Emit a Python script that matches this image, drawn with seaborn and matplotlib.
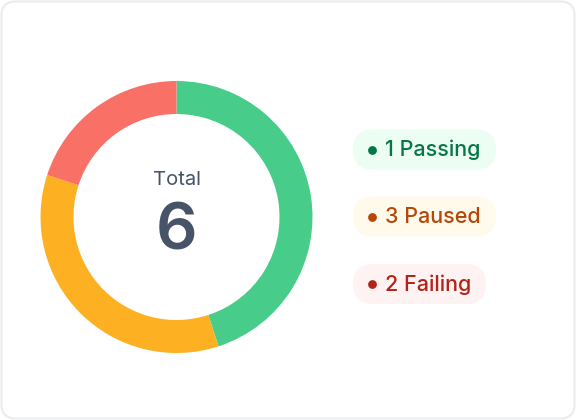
import matplotlib.pyplot as plt
import seaborn as sns
from matplotlib.patches import FancyBboxPatch

# 資料
labels = ['Passing', 'Paused', 'Failing']
counts = [1, 3, 2]
arc_share = [45, 35, 20]
ring_colors = ['#47CD89', '#FDB022', '#F97066']
badge_bg = ['#ECFDF3', '#FFFAEB', '#FEF3F2']
badge_fg = ['#067647', '#B54708', '#B42318']
total = 6

sns.set_theme(style='white')
plt.rcParams['font.family'] = ['Inter', 'DejaVu Sans']

W, H = 576, 420
fig = plt.figure(figsize=(W / 100, H / 100), dpi=100)

# 背景卡片
bg = fig.add_axes([0, 0, 1, 1])
bg.set_xlim(0, W)
bg.set_ylim(H, 0)
bg.axis('off')
bg.add_patch(FancyBboxPatch((1.5, 1.5), W - 3, H - 3,
                            boxstyle='round,pad=0,rounding_size=14',
                            facecolor='white', edgecolor='#EAECF0', linewidth=1.5))

# 圓環圖
cx, cy, r = 176.5, 217, 136
ax = fig.add_axes([(cx - r) / W, (H - cy - r) / H, 2 * r / W, 2 * r / H])
ax.pie(arc_share, colors=ring_colors, startangle=90, counterclock=False,
       radius=1, wedgeprops=dict(width=33 / r, linewidth=0))
ax.set_aspect('equal')
ax.set_xlim(-1, 1)
ax.set_ylim(-1, 1)
ax.axis('off')

bg.text(cx, 180, 'Total', ha='center', va='center', fontsize=14.5, color='#475467')
bg.text(cx, 233, str(total), ha='center', va='center', fontsize=47,
        fontweight='semibold', color='#475467')

# 標籤
badge_top = [129.5, 196.5, 264]
badge_w = [143, 143, 133]
for i, lab in enumerate(labels):
    y0 = badge_top[i]
    bg.add_patch(FancyBboxPatch((353, y0), badge_w[i], 40,
                                boxstyle='round,pad=0,rounding_size=20',
                                facecolor=badge_bg[i], edgecolor='none'))
    bg.scatter([371.5], [y0 + 20], s=40, color=badge_fg[i], linewidths=0, zorder=3)
    bg.text(385, y0 + 20.5, f'{counts[i]} {lab}', ha='left', va='center',
            fontsize=15.5, fontweight='medium', color=badge_fg[i])

fig.savefig('out.png', dpi=100)
